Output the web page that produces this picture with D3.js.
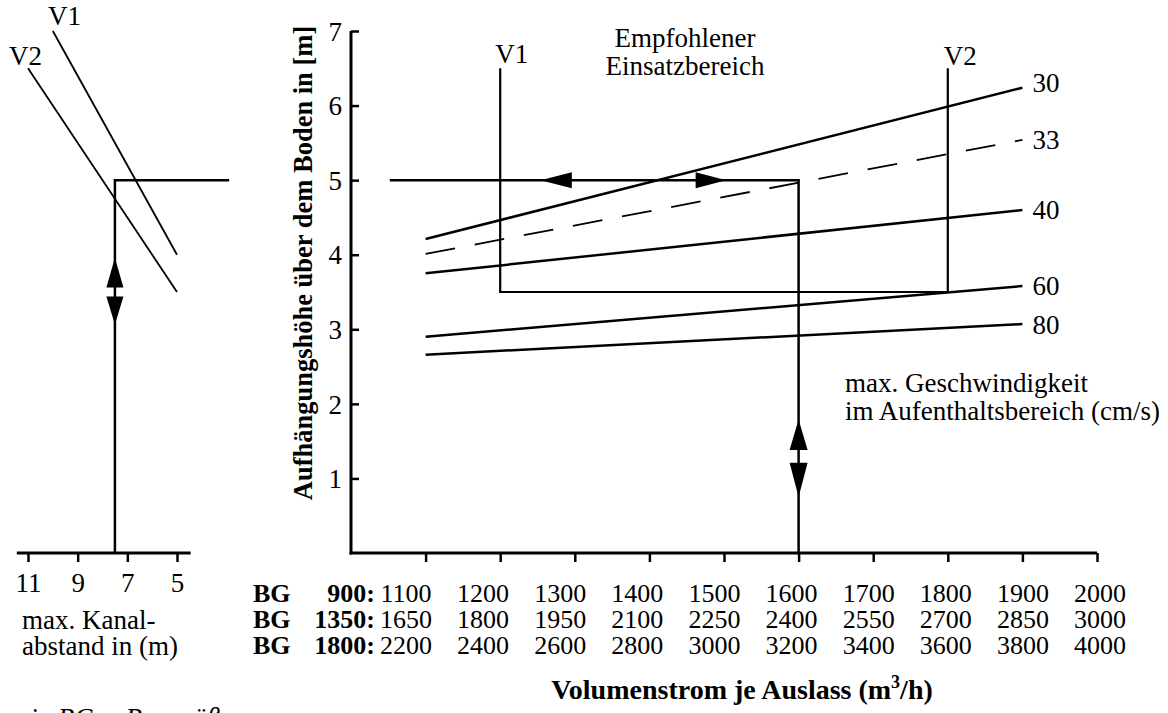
<!DOCTYPE html>
<html><head><meta charset="utf-8">
<script src="https://cdn.jsdelivr.net/npm/d3@7"></script>
<style>
html,body{margin:0;padding:0;background:#fff;}
svg text{font-family:"Liberation Serif","Times New Roman",serif;fill:#000;}
</style></head>
<body>
<svg id="chart" width="1168" height="713"></svg>
<script>
// ---- data ----
const yTickValues = [1, 2, 3, 4, 5, 6, 7];
const flowBG900  = [1100, 1200, 1300, 1400, 1500, 1600, 1700, 1800, 1900, 2000];
const flowBG1350 = [1650, 1800, 1950, 2100, 2250, 2400, 2550, 2700, 2850, 3000];
const flowBG1800 = [2200, 2400, 2600, 2800, 3000, 3200, 3400, 3600, 3800, 4000];
const sizeNames = ["900", "1350", "1800"];
const velocityNames = ["30", "33", "40", "60", "80"];
const velocityStartFlow = 1100;
const velocityEndFlow = 1900;
const velocityHeightStart = [4.21, 4.01, 3.75, 2.90, 2.66];
const velocityHeightEnd   = [6.24, 5.54, 4.60, 3.58, 3.07];
const rangeV1Flow = 1200, rangeV2Flow = 1800, rangeBottom = 3.5, rangeTop = 6.5;
const leftTickValues = [11, 9, 7, 5];
const leftV1 = [[10, 7.0], [5, 4.0]];
const leftV2 = [[11, 6.5], [5, 3.5]];
const exampleDistance = 7.5, exampleLeftEnd = 2.9;
const exampleHeight = 5;
const exampleFlowStart = 1052, exampleFlow = 1600;

// ---- scales ----
const svg = d3.select("#chart");
const y = d3.scaleLinear().domain([0, 7]).range([553, 31]);
const x = d3.scaleLinear().domain([1000, 2000]).range([351, 1097]);
const xl = d3.scaleLinear().domain([11, 5]).range([28, 177]);
// table columns (own layout, slightly wider than the tick spacing)
const col = d3.scalePoint().domain(d3.range(flowBG900.length)).range([406, 1100]);
const FS = 27;

// ---- main axes ----
const yAxis = d3.axisLeft(y).tickValues(yTickValues).tickSizeInner(-8).tickSizeOuter(0)
  .tickPadding(9).tickFormat(d3.format("d"));
const gy = svg.append("g").attr("transform", `translate(${x(1000)},0)`).call(yAxis);
gy.select(".domain").remove();
gy.selectAll("line").attr("stroke", "#000").attr("stroke-width", 2.5);
gy.selectAll("text").attr("font-size", FS).attr("font-family", "Liberation Serif").attr("dy", "0.34em");
svg.append("line").attr("x1", x(1000)).attr("x2", x(1000)).attr("y1", y(0) + 1.5).attr("y2", y(7))
  .attr("stroke", "#000").attr("stroke-width", 3);

const xAxis = d3.axisBottom(x).tickValues(flowBG900).tickSizeInner(9).tickSizeOuter(0).tickFormat("");
const gx = svg.append("g").attr("transform", `translate(0,${y(0)})`).call(xAxis);
gx.select(".domain").remove();
gx.selectAll("text").remove();
gx.selectAll("line").attr("stroke", "#000").attr("stroke-width", 2.5);
svg.append("line").attr("x1", x(1000) - 1.5).attr("x2", x(2000)).attr("y1", y(0)).attr("y2", y(0))
  .attr("stroke", "#000").attr("stroke-width", 3);

// ---- velocity lines ----
velocityNames.forEach((name, i) => {
  svg.append("line")
    .attr("x1", x(velocityStartFlow)).attr("y1", y(velocityHeightStart[i]))
    .attr("x2", x(velocityEndFlow)).attr("y2", y(velocityHeightEnd[i]))
    .attr("stroke", "#000").attr("stroke-width", name === "33" ? 1.8 : 2.5)
    .attr("stroke-dasharray", name === "33" ? "30,20" : null);
  svg.append("text").attr("x", x(velocityEndFlow) + 10)
    .attr("y", y(velocityHeightEnd[i]) + (name === "30" ? -5 : 0))
    .attr("dy", "0.35em").attr("font-size", FS).text(name);
});

// ---- recommended range ----
svg.append("path")
  .attr("d", d3.line()([[x(rangeV1Flow), y(rangeTop)], [x(rangeV1Flow), y(rangeBottom)],
                        [x(rangeV2Flow), y(rangeBottom)], [x(rangeV2Flow), y(rangeTop)]]))
  .attr("fill", "none").attr("stroke", "#000").attr("stroke-width", 2.2);
svg.append("text").attr("x", x(rangeV1Flow) - 5).attr("y", y(rangeTop) - 5).attr("font-size", FS).text("V1");
svg.append("text").attr("x", x(rangeV2Flow) - 4).attr("y", y(rangeTop) - 3).attr("font-size", FS).text("V2");
svg.append("text").attr("x", 685).attr("y", 47).attr("text-anchor", "middle").attr("font-size", FS).text("Empfohlener");
svg.append("text").attr("x", 685).attr("y", 75).attr("text-anchor", "middle").attr("font-size", FS).text("Einsatzbereich");

// ---- example path ----
svg.append("path")
  .attr("d", d3.line()([[x(exampleFlowStart), y(exampleHeight)], [x(exampleFlow), y(exampleHeight)], [x(exampleFlow), y(0)]]))
  .attr("fill", "none").attr("stroke", "#000").attr("stroke-width", 2.5);
svg.append("path")
  .attr("d", d3.line()([[xl(exampleDistance), y(0)], [xl(exampleDistance), y(exampleHeight)], [xl(exampleLeftEnd), y(exampleHeight)]]))
  .attr("fill", "none").attr("stroke", "#000").attr("stroke-width", 2.5);

function arrowH(tipX, baseX, cy, hw) {
  svg.append("path").attr("d", `M${tipX},${cy}L${baseX},${cy - hw}L${baseX},${cy + hw}Z`).attr("fill", "#000");
}
function arrowV(cx, tipY, baseY, hw) {
  svg.append("path").attr("d", `M${cx},${tipY}L${cx - hw},${baseY}L${cx + hw},${baseY}Z`).attr("fill", "#000");
}
arrowH(x(1254), x(1296), y(exampleHeight), 8);
arrowH(x(1503), x(1462), y(exampleHeight), 8);
arrowV(x(exampleFlow), y(1.79), y(1.38), 9);
arrowV(x(exampleFlow), y(0.75), y(1.21), 9);
arrowV(xl(exampleDistance), y(3.96), y(3.56), 8.5);
arrowV(xl(exampleDistance), y(3.06), y(3.44), 8.5);

// ---- left panel ----
svg.append("line").attr("x1", xl(11.45)).attr("x2", xl(4.45)).attr("y1", y(0)).attr("y2", y(0))
  .attr("stroke", "#000").attr("stroke-width", 3);
const gl = svg.append("g").attr("transform", `translate(0,${y(0)})`)
  .call(d3.axisBottom(xl).tickValues(leftTickValues).tickSizeInner(9).tickSizeOuter(0)
    .tickPadding(11).tickFormat(d3.format("d")));
gl.select(".domain").remove();
gl.selectAll("line").attr("stroke", "#000").attr("stroke-width", 2.5);
gl.selectAll("text").attr("font-size", FS).attr("font-family", "Liberation Serif");
[leftV1, leftV2].forEach(seg => {
  svg.append("line").attr("x1", xl(seg[0][0])).attr("y1", y(seg[0][1]))
    .attr("x2", xl(seg[1][0])).attr("y2", y(seg[1][1])).attr("stroke", "#000").attr("stroke-width", 1.8);
});
svg.append("text").attr("x", 48).attr("y", 25).attr("font-size", FS).text("V1");
svg.append("text").attr("x", 9).attr("y", 65).attr("font-size", FS).text("V2");
svg.append("text").attr("x", 22).attr("y", 629).attr("font-size", FS).text("max. Kanal-");
svg.append("text").attr("x", 22).attr("y", 655).attr("font-size", FS).text("abstand in (m)");
svg.append("text").attr("x", 30).attr("y", 727).attr("font-size", FS).attr("font-style", "italic").text("in BG = Baugröße");

// ---- flow table ----
const rows = [flowBG900, flowBG1350, flowBG1800];
rows.forEach((vals, r) => {
  const by = 602 + r * 26;
  svg.append("text").attr("x", 253).attr("y", by).attr("font-size", 26).attr("font-weight", "bold").text("BG");
  svg.append("text").attr("x", 375).attr("y", by).attr("text-anchor", "end").attr("font-size", 26)
    .attr("font-weight", "bold").text(sizeNames[r] + ":");
  vals.forEach((v, i) => {
    svg.append("text").attr("x", col(i)).attr("y", by).attr("text-anchor", "middle")
      .attr("font-size", 26).text(v);
  });
});

// ---- titles & notes ----
const xt = svg.append("text").attr("x", 742).attr("y", 699).attr("text-anchor", "middle")
  .attr("font-size", 28).attr("font-weight", "bold");
xt.append("tspan").text("Volumenstrom je Auslass (m");
xt.append("tspan").attr("font-size", 18).attr("dy", -11).text("3");
xt.append("tspan").attr("dy", 11).text("/h)");
svg.append("text").attr("transform", "translate(312,263) rotate(-90)").attr("text-anchor", "middle")
  .attr("font-size", 26.5).attr("font-weight", "bold").text("Aufhängungshöhe über dem Boden in [m]");
svg.append("text").attr("x", 845).attr("y", 392).attr("font-size", FS).text("max. Geschwindigkeit");
svg.append("text").attr("x", 845).attr("y", 420).attr("font-size", FS).text("im Aufenthaltsbereich (cm/s)");
</script>
</body></html>
